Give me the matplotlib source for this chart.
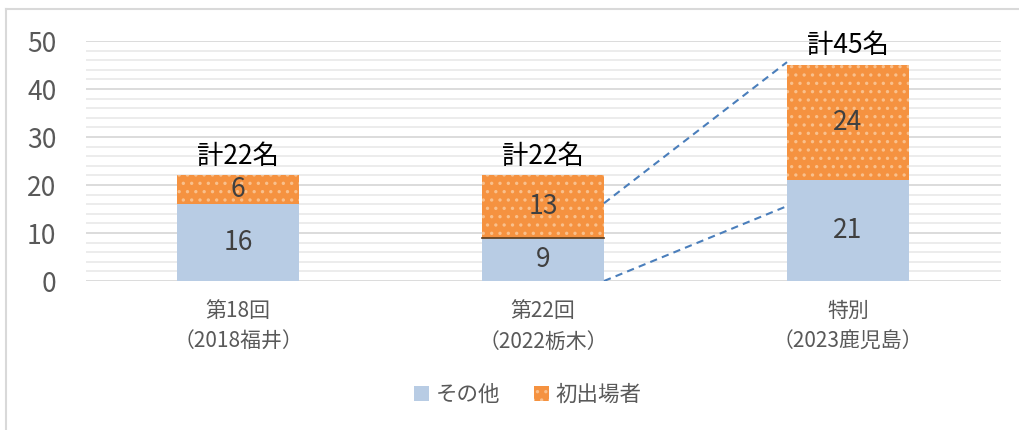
import matplotlib
matplotlib.use("Agg")
import matplotlib.pyplot as plt
from matplotlib.lines import Line2D
from matplotlib.patches import Patch
import numpy as np

plt.rcParams['font.family'] = ['Noto Sans CJK JP', 'DejaVu Sans']
plt.rcParams['hatch.linewidth'] = 1.2

categories = ["第18回\n（2018福井）", "第22回\n（2022栃木）", "特別\n（2023鹿児島）"]
other = [16, 9, 21]
first = [6, 13, 24]
totals_labels = ["計22名", "計22名", "計45名"]
series_names = ["その他", "初出場者"]

blue = "#B8CCE4"
orange = "#F59240"
hatch_col = "#F9C08C"
gray_text = "#595959"

fig = plt.figure(figsize=(10.19, 4.30), dpi=100)
ax = fig.add_axes([85.5/1019, 1-281/430, 915/1019, 240/430])

x = np.arange(len(categories))
w = 0.4
b1 = ax.bar(x, other, w, color=blue, zorder=3)
b2 = ax.bar(x, first, w, bottom=other, color=orange, edgecolor=hatch_col,
            hatch='..', linewidth=0, zorder=3)

# boundary line on second bar
ax.plot([x[1]-w/2, x[1]+w/2], [other[1], other[1]], color="#5a3a1a", lw=1.2, zorder=4)

for i in range(len(x)):
    ax.text(x[i], other[i]/2, str(other[i]), ha='center', va='center',
            fontsize=19, color="#404040", zorder=5)
    ax.text(x[i], other[i] + first[i]/2, str(first[i]), ha='center', va='center',
            fontsize=19, color="#404040", zorder=5)
    ax.text(x[i], other[i] + first[i] + 1.2, totals_labels[i], ha='center', va='bottom',
            fontsize=19, color="black", zorder=5)

# dashed connector lines
ax.plot([1.2, 1.8], [16.2, 45.6], ls=(0, (3.5, 2.5)), color="#4A7EBB", lw=1.5, zorder=4)
ax.plot([1.2, 1.8], [0, 15.6], ls=(0, (3.5, 2.5)), color="#4A7EBB", lw=1.5, zorder=4)

ax.set_xlim(-0.5, 2.5)
ax.set_ylim(0, 50)
ax.set_yticks(np.arange(0, 51, 10))
ax.set_yticks(np.arange(0, 51, 2), minor=True)
ax.grid(axis='y', which='major', color="#D9D9D9", lw=1.3, zorder=0)
ax.grid(axis='y', which='minor', color="#EBEBEB", lw=1.3, zorder=0)
ax.set_axisbelow(True)
for s in ax.spines.values():
    s.set_visible(False)
ax.tick_params(axis='y', which='both', length=0, labelsize=19, labelcolor=gray_text, pad=21)
ax.tick_params(axis='x', length=0, labelsize=15, labelcolor=gray_text, pad=14)
ax.set_xticks(x)
ax.set_xticklabels(categories, linespacing=1.5)
for t in ax.get_yticklabels():
    t.set_ha('right')

handles = [Patch(facecolor=blue, label=series_names[0]),
           Patch(facecolor=orange, edgecolor=hatch_col, hatch='..', linewidth=0, label=series_names[1])]
fig.legend(handles=handles, loc='center', bbox_to_anchor=(0.518, 1-395/430), ncol=2,
           frameon=False, fontsize=15.5, labelcolor=gray_text, handlelength=0.7,
           handleheight=0.7, handletextpad=0.3, columnspacing=1.6)

# figure border
fig.add_artist(Line2D([5.5/1019, 5.5/1019], [0, 1-8.5/430], color="#D9D9D9", lw=1.5,
                      transform=fig.transFigure))
fig.add_artist(Line2D([5.5/1019, 1], [1-8.5/430, 1-8.5/430], color="#D9D9D9", lw=1.5,
                      transform=fig.transFigure))

fig.savefig("out.png", dpi=100)
